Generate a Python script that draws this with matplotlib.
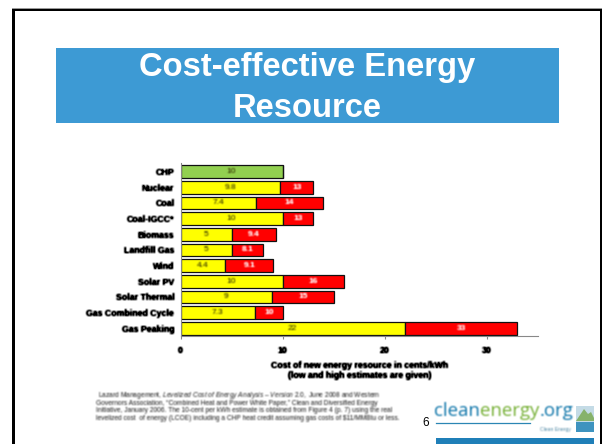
import matplotlib
matplotlib.use("Agg")
import matplotlib.pyplot as plt
from matplotlib.patches import Rectangle, Polygon
import numpy as np

plt.rcParams['font.family'] = ['Liberation Sans', 'DejaVu Sans']
plt.rcParams['mathtext.fontset'] = 'custom'
plt.rcParams['mathtext.rm'] = 'Liberation Sans'
plt.rcParams['mathtext.it'] = 'Liberation Sans:italic'
plt.rcParams['mathtext.bf'] = 'Liberation Sans:bold'

categories = ["CHP", "Nuclear", "Coal", "Coal-IGCC*", "Biomass", "Landfill Gas", "Wind",
              "Solar PV", "Solar Thermal", "Gas Combined Cycle", "Gas Peaking"]
low_values = [10, 9.8, 7.4, 10, 5, 5, 4.4, 10, 9, 7.3, 22]
high_values = [10, 13, 14, 13, 9.4, 8.1, 9.1, 16, 15, 10, 33]
low_labels = ["10", "9.8", "7.4", "10", "5", "5", "4.4", "10", "9", "7.3", "22"]
high_labels = ["", "13", "14", "13", "9.4", "8.1", "9.1", "16", "15", "10", "33"]
x_ticks = [0, 10, 20, 30]
title_lines = ["Cost-effective Energy", "Resource"]
x_label_lines = ["Cost of new energy resource in cents/kWh", "(low and high estimates are given)"]
source_lines = [
    r"Lazard Management, $\mathit{Levelized\ Cost\ of\ Energy\ Analysis\ –\ Version\ 2.0,}$ June 2008 and Western",
    "Governors Association, “Combined Heat and Power White Paper,” Clean and Diversified Energy",
    "Initiative, January 2006. The 10-cent per kWh estimate is obtained from Figure 4 (p. 7) using the real",
    "levelized cost  of energy (LCOE) including a CHP heat credit assuming gas costs of \\$11/MMBtu or less.",
]


def soften(img, dpi):
    """Small blur of a text's alpha, as the reference's text is soft."""
    pad = 2
    src = np.pad(img, [(pad, pad), (pad, pad), (0, 0)])
    a = src[..., 3]
    peak = np.unravel_index(np.argmax(a), a.shape)
    out = np.zeros_like(src)
    out[..., :3] = src[peak][:3]
    k = [0.25, 0.5, 0.25]
    b = np.apply_along_axis(lambda r: np.convolve(r, k, mode='same'), 0, a)
    b = np.apply_along_axis(lambda r: np.convolve(r, k, mode='same'), 1, b)
    out[..., 3] = np.clip(b * 1.15, 0, 1)
    return out, -pad, -pad


def soften_heavy(img, dpi):
    """The same blur with a stronger gain, for the reference's dark bold labels."""
    out, ox, oy = soften(img, dpi)
    out[..., 3] = np.clip(out[..., 3] * 1.6, 0, 1)
    return out, ox, oy


W, H = 602, 444
fig = plt.figure(figsize=(W / 100, H / 100), dpi=100, facecolor='white')

# page furniture in pixel coordinates
bg = fig.add_axes([0, 0, 1, 1])
bg.set_xlim(0, W)
bg.set_ylim(H, 0)
bg.axis('off')
BLUE = '#3d9ad4'
bg.add_patch(Rectangle((12, 8), 590, 1, fc='#999999', ec='none'))
bg.add_patch(Rectangle((12, 9), 590, 2.5, fc='black', ec='none'))
bg.add_patch(Rectangle((12, 9), 2.7, 435, fc='black', ec='none'))
bg.add_patch(Rectangle((600, 9), 1.5, 435, fc='black', ec='none'))
bg.add_patch(Rectangle((56, 48), 503, 75, fc=BLUE, ec='none'))
bg.add_patch(Rectangle((436, 438), 158, 6, fc='#1f7fb8', ec='none'))
for line, y in zip(title_lines, [67.5, 108.5]):
    bg.text(307, y, line, color='white', fontsize=23.6, fontweight='bold', ha='center', va='center')
soft = []
heavy = []
for line, x, y in zip(source_lines, [98, 96, 96, 96], [395.3, 403, 410.6, 418.2]):
    soft.append(bg.text(x, y, line, color='#333333', fontsize=4.78, ha='left', va='center'))
bg.text(426, 423, "6", color='black', fontsize=8.5, ha='center', va='center')

# logo
rend = fig.canvas.get_renderer()
lx = 434
for part, col in [("clean", '#2b86b4'), ("energy", '#86b94d'), (".org", '#2b86b4')]:
    t = bg.text(lx, 416, part, color=col, fontsize=13.4, family='Open Sans', ha='left', va='baseline')
    soft.append(t)
    lx = t.get_window_extent(rend).x1
bg.plot([436, 530], [423, 423], color='#2b86b4', lw=0.9)
soft.append(bg.text(571, 429, "Clean Energy", color='#5f93ad', fontsize=3.6, ha='right', va='center'))
bg.add_patch(Rectangle((576, 406), 18, 26, fc='#c4dbe6', ec='none'))
bg.add_patch(Polygon([(576, 421), (584, 409), (588, 414), (591, 412), (594, 418), (594, 421)], fc='#86b26a', ec='none'))
bg.add_patch(Rectangle((576, 422), 18, 10, fc='#3e93bf', ec='none'))

# chart
x0, x1 = 180.5, 537.5
y0, y1 = 163.0, 336.0
ax = fig.add_axes([x0 / W, 1 - y1 / H, (x1 - x0) / W, (y1 - y0) / H])
ax.patch.set_alpha(0)
pos = list(range(len(categories)))
seg_low = low_values
seg_high = [h - l for h, l in zip(high_values, low_values)]
low_colors = ['#92d050'] + ['#ffff00'] * (len(categories) - 1)
ax.barh(pos, seg_low, height=0.8, color=low_colors, edgecolor='#111111', linewidth=0.9)
ax.barh(pos, seg_high, left=seg_low, height=0.8, color='#ff0000', edgecolor='#111111', linewidth=0.9)
for i in pos:
    soft.append(ax.text(low_values[i] / 2, i, low_labels[i], ha='center', va='center', fontsize=6, color='#333300'))
    if high_labels[i]:
        soft.append(ax.text((low_values[i] + high_values[i]) / 2, i, high_labels[i], ha='center', va='center',
                            fontsize=6, color='white', fontweight='bold'))
ax.set_xlim(0, 35)
ax.set_ylim(10.49, -0.55)
ax.set_yticks(pos)
ax.set_yticklabels(categories, fontsize=6.3, fontweight='bold', color='black')
ax.set_xticks(x_ticks)
ax.set_xticklabels([str(v) for v in x_ticks], fontsize=6.3, fontweight='bold')
ax.tick_params(axis='y', length=0, pad=4.5)
ax.tick_params(axis='x', length=2.5, width=0.8, color='#888888', pad=5)
heavy.extend(ax.get_yticklabels())
heavy.extend(ax.get_xticklabels())
for s in ['top', 'right']:
    ax.spines[s].set_visible(False)
for s in ['left', 'bottom']:
    ax.spines[s].set_color('#888888')
    ax.spines[s].set_linewidth(0.8)
for line, y in zip(x_label_lines, [365.5, 375.5]):
    heavy.append(bg.text(360, y, line, color='black', fontsize=6.3, fontweight='bold', ha='center', va='center'))
for t in soft:
    t.set_agg_filter(soften)
for t in heavy:
    t.set_agg_filter(soften_heavy)

fig.savefig('out.png', dpi=100)
